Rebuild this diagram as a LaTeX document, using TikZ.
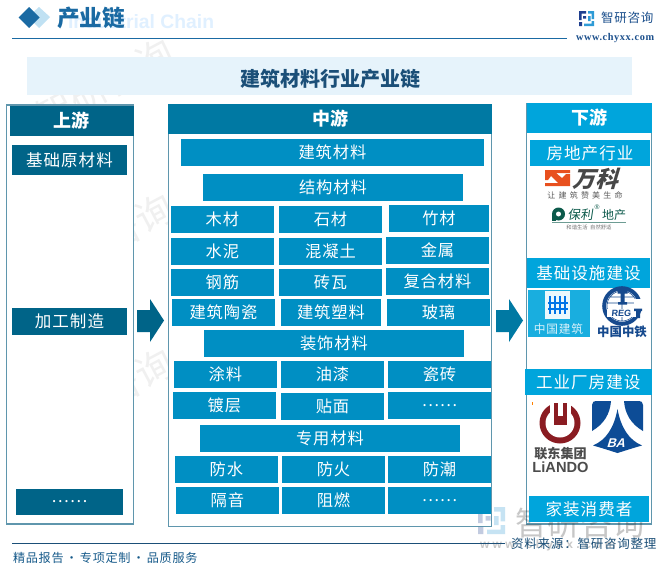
\documentclass[tikz,border=0pt]{standalone}
\usepackage{fontspec}
\usetikzlibrary{calc}
\setmainfont{Liberation Sans}
\newfontfamily\cjk[LetterSpace=6]{Noto Sans CJK SC}
\newfontfamily\cjkp{Noto Sans CJK SC}
\newfontfamily\cjkw[LetterSpace=40]{Noto Sans CJK SC}
\newfontfamily\urlf[LetterSpace=6]{Liberation Serif}
\definecolor{midc}{HTML}{008FC3}
\definecolor{midh}{HTML}{0079A3}
\definecolor{leftc}{HTML}{006488}
\definecolor{rightc}{HTML}{00A5DC}
\definecolor{framec}{HTML}{5F96AD}
\definecolor{bandc}{HTML}{E6F3FB}
\definecolor{titlec}{HTML}{1B4F78}
\definecolor{headc}{HTML}{1A6AA3}
\definecolor{navy}{HTML}{1B4F8C}
\definecolor{wvk}{HTML}{E8501E}
\definecolor{polyg}{HTML}{0C5A4B}
\definecolor{reg}{HTML}{164A8E}
\definecolor{lando}{HTML}{8A1C22}
\definecolor{bac}{HTML}{0D4C96}
\definecolor{dk}{HTML}{1F3F8F}
\definecolor{lt}{HTML}{2E9BD6}
\tikzset{
  boxbase/.style={inner sep=0pt,outer sep=0pt,text=white,align=center},
  midbox/.style={boxbase,fill=midc,font=\cjk\fontsize{12.2}{14}\selectfont},
  leftbox/.style={boxbase,fill=leftc,font=\cjk\fontsize{12.4}{14}\selectfont},
  rightbox/.style={boxbase,fill=rightc,font=\cjk\fontsize{12.4}{14}\selectfont},
  headmid/.style={boxbase,fill=midh,font=\cjkp\bfseries\fontsize{13.5}{15}\selectfont},
  headleft/.style={boxbase,fill=leftc,font=\cjkp\bfseries\fontsize{13.5}{15}\selectfont},
  headright/.style={boxbase,fill=rightc,font=\cjkp\bfseries\fontsize{13.5}{15}\selectfont},
  framebox/.style={inner sep=0pt,outer sep=0pt,draw=framec,line width=0.8pt,fill=white},
  watermark/.style={text=black!6,rotate=28,font=\cjkp\fontsize{28}{30}\selectfont},
  logotext/.style={inner sep=0pt,outer sep=0pt},
}
\newcommand{\bx}[7]{\node[#2,minimum width={(#5-#3)*0.75pt},minimum height={(#6-#4)*0.75pt}] (#1) at ({(#3+#5)/2},{(#4+#6)/2}) {\raisebox{-1.5pt}{#7}};}
\newcommand{\zyicon}[5]{% x y scale dark light
  \begin{scope}[shift={(#1,#2)},x=#3*0.75pt,y=-#3*0.75pt]
    \fill[#4] (0,0) rectangle (7,2.5) (0,0) rectangle (2.5,9) (4.2,5) rectangle (7,7.5) (0,11) rectangle (3,15);
    \fill[#5] (9,0) rectangle (15,2.5) (12.5,0) rectangle (15,8) (9,5) rectangle (11.5,10) (5,12.5) rectangle (15,15) (12.5,10) rectangle (15,15);
  \end{scope}}
\begin{document}
\begin{tikzpicture}[x=0.75pt,y=-0.75pt]
\useasboundingbox (0,0) rectangle (663,571);
\fill[white] (0,0) rectangle (663,571);
% faint watermarks
\foreach \wx/\wy in {105/85,105/240,105/395}
  \node[watermark] (wm\wx\wy) at (\wx,\wy) {智研咨询};
% header
\node[logotext,anchor=west,text=blue!50!cyan!12,font=\bfseries\fontsize{14.5}{16}\selectfont] (engt) at (68,22) {Industrial Chain};
\fill[lt!30!white] (39,7) -- (50,17) -- (39,28) -- (28,17) -- cycle;
\fill[headc] (29,7) -- (39.5,17.5) -- (29,28) -- (18.5,17.5) -- cycle;
\node[logotext,anchor=west,text=headc,font=\cjkp\bfseries\fontsize{17}{19}\selectfont] (title) at (57,18) {产业链};
\coordinate (tl1) at (12,38.5); \coordinate (tl2) at (567,38.5);
\draw[headc,line width=0.8pt] (tl1) -- (tl2);
\zyicon{579}{11}{1}{dk}{lt}
\node[logotext,anchor=west,text=navy,font=\cjk\fontsize{9.4}{12}\selectfont] (zy) at (601,18) {智研咨询};
\node[logotext,anchor=west,text=navy,font=\urlf\bfseries\fontsize{7.7}{9}\selectfont] (url) at (576,38) {www.chyxx.com};
% band
\bx{band}{boxbase,fill=bandc}{27}{57}{632}{95}{}
\node[logotext,text=titlec,font=\cjkp\bfseries\fontsize{15}{17}\selectfont] (bandt) at (330.5,78.5) {建筑材料行业产业链};
% frames
\bx{lf}{framebox}{6.5}{105}{133.5}{524}{}
\bx{mf}{framebox}{168.5}{105}{491.5}{526.5}{}
\bx{rf}{framebox}{526.5}{104}{651.5}{524}{}
% bottom watermark
\begin{scope}[opacity=0.27]
\zyicon{478}{507}{1.8}{dk}{lt}
\node[logotext,anchor=west,text=black!80,font=\cjkp\fontsize{24.4}{27}\selectfont] (bigwm) at (515,523) {智研咨询};
\node[logotext,anchor=west,text=black!80,font=\bfseries\fontsize{9}{11}\selectfont] (bigurl) at (480,545) {w w w . c h y x x . c o m};
\end{scope}
% left
\bx{lh}{headleft}{10}{106}{133.5}{136}{上游}
\bx{l1}{leftbox}{12}{145}{127}{175}{基础原材料}
\bx{l2}{leftbox}{12}{308}{127}{335}{加工制造}
\bx{l3}{leftbox}{16}{489}{123}{515}{……}
% mid
\bx{mh}{headmid}{168}{104}{492}{134}{中游}
\bx{m0}{midbox}{181}{139}{484}{166}{建筑材料}
\bx{m1}{midbox}{203}{174}{463}{201}{结构材料}
\bx{a1}{midbox}{171}{206}{274}{233}{木材}
\bx{a2}{midbox}{279}{206}{382}{233}{石材}
\bx{a3}{midbox}{389}{205}{489}{232}{竹材}
\bx{b1}{midbox}{171}{238}{274}{265}{水泥}
\bx{b2}{midbox}{279}{238}{382}{265}{混凝土}
\bx{b3}{midbox}{386}{237}{489}{264}{金属}
\bx{c1}{midbox}{171}{269}{274}{296}{钢筋}
\bx{c2}{midbox}{279}{269}{382}{296}{砖瓦}
\bx{c3}{midbox}{386}{268}{489}{295}{复合材料}
\bx{d1}{midbox}{172}{299}{275}{326}{建筑陶瓷}
\bx{d2}{midbox}{281}{299}{381}{326}{建筑塑料}
\bx{d3}{midbox}{387}{299}{490}{326}{玻璃}
\bx{m2}{midbox}{204}{330}{464}{357}{装饰材料}
\bx{e1}{midbox}{174}{361}{277}{388}{涂料}
\bx{e2}{midbox}{281}{361}{384}{388}{油漆}
\bx{e3}{midbox}{388}{361}{491}{388}{瓷砖}
\bx{f1}{midbox}{173}{392}{276}{419}{镀层}
\bx{f2}{midbox}{281}{393}{384}{420}{贴面}
\bx{f3}{midbox}{388}{392}{491}{419}{……}
\bx{m3}{midbox}{200}{425}{460}{452}{专用材料}
\bx{g1}{midbox}{175}{456}{278}{483}{防水}
\bx{g2}{midbox}{282}{456}{385}{483}{防火}
\bx{g3}{midbox}{388}{456}{491}{483}{防潮}
\bx{h1}{midbox}{176}{487}{279}{514}{隔音}
\bx{h2}{midbox}{282}{487}{385}{514}{阻燃}
\bx{h3}{midbox}{388}{487}{491}{514}{……}
% right
\bx{rh}{headright}{527}{103}{651.5}{133}{下游}
\bx{r1}{rightbox}{530}{140}{650}{166}{房地产行业}
\bx{r2}{rightbox}{527}{258}{650}{288}{基础设施建设}
\bx{r3}{rightbox}{525}{369}{651.5}{395}{工业厂房建设}
\bx{r4}{rightbox}{529}{496}{649}{522}{家装消费者}
% block arrows
\fill[leftc] (137,310) -- (150,310) -- (150,299) -- (164,320.5) -- (150,342) -- (150,332) -- (137,332) -- cycle;
\fill[midh] (496,310) -- (509,310) -- (509,299) -- (523,320.5) -- (509,342) -- (509,332) -- (496,332) -- cycle;
% Vanke
\fill[wvk] (545,170) -- (570,170) -- (570,173) -- (556,173) -- (562,178) -- (566,174) -- (570,174) -- (570,186) -- (545,186) -- (545,183) -- (558,183) -- (551,176) -- (548,180) -- (545,180) -- cycle;
\node[logotext,text=black!72,xslant=0.3,font=\cjkp\bfseries\fontsize{17}{19}\selectfont] (vk) at (598,179) {万科};
\node[logotext,text=black!65,font=\cjkw\fontsize{6}{8}\selectfont] (vks) at (585,195) {让建筑赞美生命};
% Poly
\fill[polyg] (558.5,214) circle (6.5);
\fill[polyg] (552,214) rectangle (556,221);
\fill[white] (558.5,214) circle (2.5);
\node[logotext,text=polyg,xslant=0.15,font=\cjkp\fontsize{9.5}{12}\selectfont] (pl) at (581,215) {保利};
\node[logotext,text=polyg,font=\fontsize{5}{6}\selectfont] (plr) at (597,207.5) {®};
\node[logotext,text=polyg,font=\cjkp\fontsize{9}{11}\selectfont] (pld) at (614,214.5) {地产};
\draw[polyg!60,line width=0.4pt] (552,222.5) -- (626,222.5);
\node[logotext,text=black!55,font=\cjkp\fontsize{4}{5}\selectfont] (pls) at (589,227) {和谐生活\ \ 自然舒适};
% CSCEC
\fill[rightc!90!white] (528,290) rectangle (590,337);
\fill[white!92!rightc] (545,291) rectangle (570,319);
\begin{scope}[rightc!70!blue,line width=1.1pt]
  \foreach \cx in {550,555,560,565} {\draw (\cx,296) -- (\cx,314);}
  \draw (548,303) -- (568,303) (548,309) -- (568,309);
\end{scope}
\node[logotext,text=white!85!rightc,font=\cjk\fontsize{8.8}{10}\selectfont] (cs) at (558.5,329.5) {中国建筑};
% CREC
\draw[reg,line width=0.4pt] (622,306) circle (15) (622,291) -- (622,321) (607,303) -- (637,303) (610,297) -- (634,297);
\draw[reg,line width=3pt] (622,306) circle (17.8);
\fill[white] (634,299) rectangle (643,308.5);
\fill[reg] (617.5,290) rectangle (627.5,293.5) (620.5,293) rectangle (624.5,303) (618,302) rectangle (627,304.5);
\fill[white] (607,309) rectangle (637,317);
\fill[reg] (634,308.5) rectangle (642,311) (636,311) rectangle (640,318);
\node[logotext,text=reg,xslant=0.1,font=\bfseries\fontsize{6.8}{8}\selectfont] (crt) at (621.5,313) {REG};
\node[logotext,text=reg,font=\cjkp\bfseries\fontsize{9.3}{11}\selectfont] (cr) at (622,332) {中国中铁};
% Liando
\fill[orange] (531.5,402) rectangle (532.5,405);
\fill[lando] (560,423) circle (20.5);
\fill[white] (560,423) circle (14.5);
\fill[white] (549.5,400) rectangle (570.5,423);
\fill[lando] (553.5,403) rectangle (567,425);
\fill[white] (558,400) rectangle (562.5,416);
\node[logotext,text=black!70,font=\cjkp\bfseries\fontsize{9.8}{11}\selectfont] (ld) at (560.5,454) {联东集团};
\node[logotext,text=black!70,font=\bfseries\fontsize{11}{13}\selectfont] (lde) at (560.5,467) {LiANDO};
% BA
\fill[bac] (596,401) -- (611,401) .. controls (610,414) and (604,424) .. (592,431) -- (592,405) .. controls (592,402) and (594,401) .. (596,401) -- cycle;
\fill[bac] (639,401) -- (624,401) .. controls (625,414) and (631,424) .. (643,431) -- (643,405) .. controls (643,402) and (641,401) .. (639,401) -- cycle;
\fill[bac] (593,445.5) .. controls (606,440) and (614,428) .. (617.5,409) .. controls (621,428) and (629,440) .. (642,445.5) .. controls (633,448) and (624,451) .. (617.5,453) .. controls (611,451) and (602,448) .. (593,445.5) -- cycle;
\node[logotext,text=white,xslant=0.3,font=\bfseries\fontsize{9.5}{11}\selectfont] (bat) at (617,443) {BA};
% footer
\coordinate (fl1) at (12,543); \coordinate (fl2) at (505,543);
\draw[titlec,line width=0.7pt] (fl1) -- (fl2);
\node[logotext,anchor=west,text=headc!85!black,font=\cjk\fontsize{9.1}{11}\selectfont] (ft) at (13,558) {精品报告\,·\,专项定制\,·\,品质服务};
\node[logotext,anchor=east,text=titlec,font=\cjk\fontsize{9.4}{12}\selectfont] (src) at (656.5,544) {资料来源：智研咨询整理};
\end{tikzpicture}
\end{document}
